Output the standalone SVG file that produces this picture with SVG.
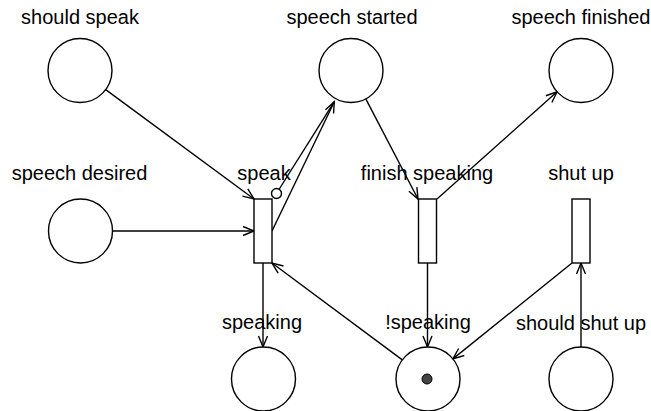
<svg xmlns="http://www.w3.org/2000/svg" width="651" height="411" viewBox="0 0 651 411">
  <style>
    .place { fill: #fff; stroke: #000; stroke-width: 1.4; }
    .trans { fill: #fff; stroke: #000; stroke-width: 1.4; }
    .arc { fill: none; stroke: #000; stroke-width: 1.4; }
    .arrow { marker-end: url(#head); }
    .label { font-family: "Liberation Sans", Arial, sans-serif; font-size: 20px; fill: #000; text-anchor: middle; }
    .token { fill: #444; stroke: #000; stroke-width: 1; }
    .inhib { fill: #fff; stroke: #000; stroke-width: 1.4; }
  </style>
  <defs>
    <marker id="head" markerUnits="userSpaceOnUse" markerWidth="14" markerHeight="12" viewBox="-12 -6 14 12" refX="0" refY="0" orient="auto">
      <path d="M-11,-4.5 L0,0 L-11,4.5" fill="none" stroke="#000" stroke-width="1.4"/>
    </marker>
  </defs>

  <!-- arcs -->
  <g id="connectors">
    <line class="arc arrow" x1="105.7" y1="89.6" x2="254" y2="199"/>
    <line class="arc arrow" x1="112.5" y1="231" x2="254" y2="231"/>
    <line class="arc arrow" x1="272" y1="231" x2="334.3" y2="101.7"/>
    <line class="arc" x1="334.3" y1="101.7" x2="279.3" y2="189"/>
    <circle class="inhib" cx="276.5" cy="193.5" r="5"/>
    <line class="arc arrow" x1="365.8" y1="98.9" x2="418" y2="199"/>
    <line class="arc arrow" x1="437" y1="199" x2="557.1" y2="91.8"/>
    <line class="arc arrow" x1="427.5" y1="263" x2="427.5" y2="347"/>
    <line class="arc arrow" x1="263" y1="263" x2="263" y2="347"/>
    <line class="arc arrow" x1="402.3" y1="359.9" x2="272" y2="263"/>
    <line class="arc arrow" x1="572" y1="263" x2="452.9" y2="358.9"/>
    <line class="arc arrow" x1="581" y1="347" x2="581" y2="263"/>
  </g>

  <!-- places -->
  <g id="should-speak">
    <circle class="place" cx="80" cy="70.5" r="32"/>
    <text class="label" x="80" y="24">should speak</text>
  </g>
  <g id="speech-started">
    <circle class="place" cx="351" cy="70.5" r="32"/>
    <text class="label" x="352" y="24">speech started</text>
  </g>
  <g id="speech-finished">
    <circle class="place" cx="581" cy="70.5" r="32"/>
    <text class="label" x="581" y="24">speech finished</text>
  </g>
  <g id="speech-desired">
    <circle class="place" cx="80.5" cy="231" r="32"/>
    <text class="label" x="79.5" y="180">speech desired</text>
  </g>
  <g id="speaking">
    <circle class="place" cx="263.5" cy="379" r="32"/>
    <text class="label" x="262" y="329">speaking</text>
  </g>
  <g id="not-speaking">
    <circle class="place" cx="428" cy="379" r="32"/>
    <circle class="token" cx="427" cy="379" r="5"/>
    <text class="label" x="428" y="329">!speaking</text>
  </g>
  <g id="should-shut-up">
    <circle class="place" cx="581" cy="379" r="32"/>
    <text class="label" x="581" y="330">should shut up</text>
  </g>

  <!-- transitions -->
  <g id="speak">
    <rect class="trans" x="254" y="199" width="18" height="64"/>
    <text class="label" x="264" y="180">speak</text>
  </g>
  <g id="finish-speaking">
    <rect class="trans" x="418.5" y="199" width="18" height="64"/>
    <text class="label" x="427" y="180">finish speaking</text>
  </g>
  <g id="shut-up">
    <rect class="trans" x="572" y="199" width="18" height="64"/>
    <text class="label" x="581" y="180">shut up</text>
  </g>
</svg>
